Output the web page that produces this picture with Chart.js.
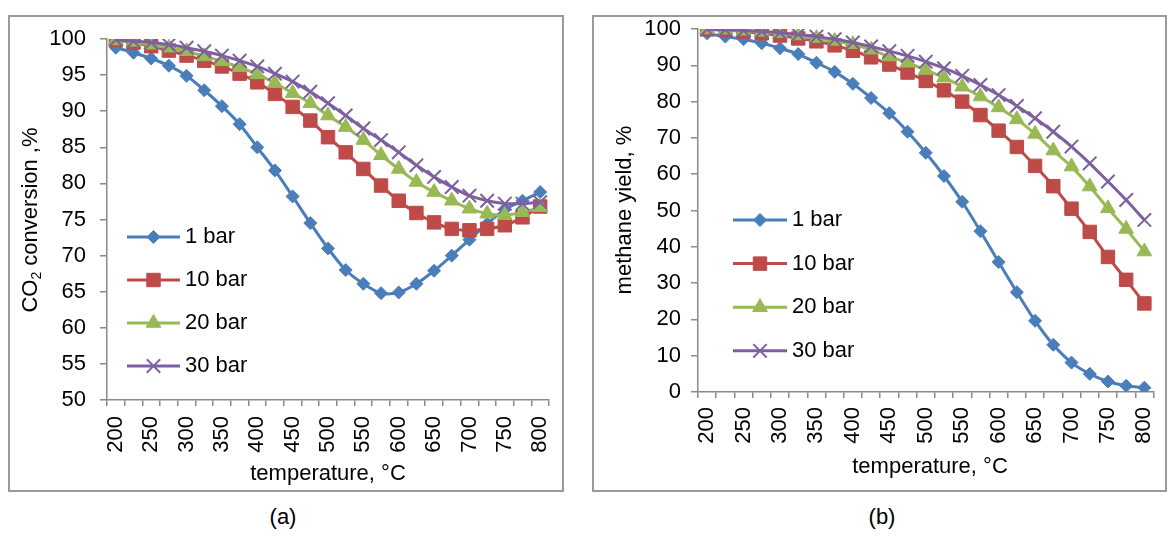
<!DOCTYPE html>
<html>
<head>
<meta charset="utf-8">
<script src="https://cdn.jsdelivr.net/npm/chart.js@4.4.0/dist/chart.umd.min.js"></script>
<style>
body { margin: 0; background: #fff; width: 1167px; height: 554px; position: relative; overflow: hidden; font-family: "Liberation Sans", Arial, sans-serif; }
.frame { position: absolute; border: 2px solid #9a9a9a; box-sizing: border-box; }
.frame canvas { display: block; }
.cap { position: absolute; font-size: 22px; transform: translate(-50%, -50%); color: #000; }
</style>
</head>
<body>
<div class="frame" style="left:8px;top:15px;width:556px;height:477px"><canvas id="chartA"></canvas></div>
<div class="frame" style="left:592px;top:15px;width:575px;height:477px"><canvas id="chartB"></canvas></div>
<div class="cap" style="left:283px;top:517px">(a)</div>
<div class="cap" style="left:882px;top:517px">(b)</div>
<script>
// temperature categories, °C
var temps = [200, 225, 250, 275, 300, 325, 350, 375, 400, 425, 450, 475, 500,
             525, 550, 575, 600, 625, 650, 675, 700, 725, 750, 775, 800];
var shownTicks = [200, 250, 300, 350, 400, 450, 500, 550, 600, 650, 700, 750, 800];
var seriesNames = ['1 bar', '10 bar', '20 bar', '30 bar'];

// (a) CO2 conversion, %
var convBar1 = [98.8, 98.1, 97.3, 96.3, 94.9, 92.9, 90.7, 88.2, 85.0, 81.8, 78.2, 74.5, 71.0,
                68.0, 66.1, 64.8, 64.9, 66.1, 67.9, 70.0, 72.2, 74.4, 76.4, 77.6, 78.8];
var convBar10 = [99.9, 99.5, 99.0, 98.4, 97.7, 97.0, 96.2, 95.2, 94.0, 92.4, 90.6, 88.7, 86.4,
                 84.3, 82.0, 79.7, 77.6, 75.9, 74.6, 73.7, 73.5, 73.7, 74.2, 75.3, 76.8];
var convBar20 = [99.8, 99.6, 99.2, 98.8, 98.3, 97.6, 96.9, 96.1, 95.1, 93.9, 92.5, 91.1, 89.4,
                 87.8, 86.0, 83.9, 82.0, 80.2, 78.8, 77.6, 76.5, 75.8, 75.6, 76.0, 76.7];
var convBar30 = [99.9, 99.7, 99.5, 99.2, 98.8, 98.3, 97.7, 97.0, 96.2, 95.2, 94.1, 92.7, 91.1,
                 89.4, 87.6, 86.0, 84.3, 82.5, 80.9, 79.5, 78.3, 77.6, 77.2, 77.2, 77.4];

// (b) methane yield, %
var yieldBar1 = [98.8, 97.9, 97.2, 96.1, 94.7, 93.1, 90.7, 88.2, 84.9, 81.0, 76.8, 71.7, 65.9,
                 59.5, 52.4, 44.3, 35.8, 27.5, 19.6, 13.0, 8.1, 5.0, 2.9, 1.7, 1.2];
var yieldBar10 = [99.9, 99.7, 99.3, 98.8, 98.2, 97.4, 96.6, 95.5, 94.0, 92.2, 90.2, 88.0, 85.7,
                  83.1, 80.0, 76.3, 72.0, 67.5, 62.3, 56.7, 50.5, 44.1, 37.2, 30.9, 24.4];
var yieldBar20 = [99.9, 99.8, 99.5, 99.2, 98.8, 98.2, 97.5, 96.7, 95.8, 94.3, 92.4, 90.7, 88.7,
                  86.6, 84.1, 81.4, 78.4, 75.1, 71.1, 66.5, 62.1, 56.6, 50.6, 44.9, 38.7];
var yieldBar30 = [99.9, 99.8, 99.6, 99.3, 99.0, 98.5, 97.9, 97.2, 96.3, 95.2, 93.9, 92.6, 91.0,
                  89.2, 87.1, 84.6, 81.8, 78.8, 75.4, 71.7, 67.6, 63.0, 58.0, 52.9, 47.4];

var colors = ['#4a7ebb', '#be4b48', '#98b954', '#7d60a0'];
var markers = [
    { pointStyle: 'rectRot', pointRadius: 6.5, pointBorderWidth: 1 },
    { pointStyle: 'rect', pointRadius: 9.5, pointBorderWidth: 1 },
    { pointStyle: 'triangle', pointRadius: 8.5, pointBorderWidth: 1 },
    { pointStyle: 'crossRot', pointRadius: 9.5, pointBorderWidth: 2 }
];
var FONT = '"Liberation Sans", Arial, sans-serif';
var AXIS = '#8a8a8a';

function makeDatasets(values) {
    return values.map(function(v, i) {
        return Object.assign({
            label: seriesNames[i],
            data: v,
            borderColor: colors[i],
            backgroundColor: colors[i],
            pointBackgroundColor: colors[i],
            pointBorderColor: colors[i],
            borderWidth: 3,
            tension: 0.3,
            order: 3 - i
        }, markers[i]);
    });
}

// titles and legend drawn by hand so they sit where the original has them
var decorPlugin = {
    id: 'decor',
    afterDraw: function(chart) {
        var o = chart.options.plugins.decor;
        var ctx = chart.ctx;
        ctx.save();
        ctx.fillStyle = '#000';
        ctx.textBaseline = 'middle';
        // y title, rotated, with optional subscript part
        ctx.save();
        ctx.translate(o.yTitle.x, o.yTitle.y);
        ctx.rotate(-Math.PI / 2);
        var big = o.fontSize + 'px ' + FONT, small = Math.round(o.fontSize * 0.65) + 'px ' + FONT;
        var total = 0;
        o.yTitle.parts.forEach(function(p) {
            ctx.font = p.sub ? small : big;
            total += ctx.measureText(p.text).width;
        });
        var x = -total / 2;
        ctx.textAlign = 'left';
        o.yTitle.parts.forEach(function(p) {
            ctx.font = p.sub ? small : big;
            ctx.fillText(p.text, x, p.sub ? 6 : 0);
            x += ctx.measureText(p.text).width;
        });
        ctx.restore();
        // x title
        ctx.font = big;
        ctx.textAlign = 'center';
        ctx.fillText(o.xTitle.text, o.xTitle.x, o.xTitle.y);
        // legend
        var lg = o.legend;
        chart.data.datasets.forEach(function(ds, i) {
            var y = lg.y + i * lg.dy;
            ctx.strokeStyle = ds.borderColor;
            ctx.fillStyle = ds.borderColor;
            ctx.lineWidth = 3;
            ctx.beginPath();
            ctx.moveTo(lg.x, y);
            ctx.lineTo(lg.x + lg.len, y);
            ctx.stroke();
            ctx.lineWidth = ds.pointBorderWidth;
            Chart.helpers.drawPoint(ctx, {
                pointStyle: ds.pointStyle, radius: ds.pointRadius, rotation: 0, borderWidth: ds.pointBorderWidth
            }, lg.x + lg.len / 2, y);
            ctx.fillStyle = '#000';
            ctx.font = big;
            ctx.textAlign = 'left';
            ctx.fillText(ds.label, lg.x + lg.len + 5, y);
        });
        ctx.restore();
    }
};

function makeChart(id, cfg) {
    return new Chart(document.getElementById(id), {
        type: 'line',
        data: { labels: temps, datasets: makeDatasets(cfg.values) },
        options: {
            animation: false,
            responsive: true,
            maintainAspectRatio: false,
            layout: { padding: { left: 0, top: cfg.top, right: cfg.right, bottom: 0 } },
            plugins: {
                legend: { display: false },
                tooltip: { enabled: false },
                decor: cfg.decor
            },
            scales: {
                x: {
                    type: 'category',
                    offset: true,
                    grid: { offset: true, drawOnChartArea: false, drawTicks: true, tickLength: 6, color: AXIS, lineWidth: 1.5 },
                    border: { color: AXIS, width: 1.5 },
                    ticks: {
                        autoSkip: false, minRotation: 90, maxRotation: 90, padding: cfg.xPad, color: '#000',
                        font: { family: FONT, size: cfg.fontSize, lineHeight: 1 },
                        callback: function(value, index) {
                            var t = temps[index];
                            return shownTicks.indexOf(t) >= 0 ? String(t) : '';
                        }
                    },
                    afterFit: function(s) { s.height = cfg.xHeight; s.paddingLeft = 0; s.paddingRight = 0; }
                },
                y: {
                    min: cfg.yMin, max: 100,
                    grid: { drawOnChartArea: false, drawTicks: true, tickLength: 7, color: AXIS, lineWidth: 1.5 },
                    border: { color: AXIS, width: 1.5 },
                    ticks: {
                        stepSize: cfg.yStep, padding: cfg.yPad, color: '#000',
                        font: { family: FONT, size: cfg.fontSize, lineHeight: 1 }
                    },
                    afterFit: function(s) { s.width = cfg.yWidth; s.paddingTop = 0; s.paddingBottom = 0; }
                }
            }
        },
        plugins: [decorPlugin]
    });
}

var chartA = makeChart('chartA', {
    values: [convBar1, convBar10, convBar20, convBar30],
    yMin: 50, yStep: 5, fontSize: 22,
    top: 22, right: 13, xHeight: 90, yWidth: 97, xPad: 10, yPad: 14,
    decor: {
        fontSize: 22,
        yTitle: { x: 21, y: 203, parts: [{ text: 'CO' }, { text: '2', sub: true }, { text: ' conversion ,%' }] },
        xTitle: { x: 318, y: 457, text: 'temperature, °C' },
        legend: { x: 117, y: 220, dy: 43, len: 53 }
    }
});

var chartB = makeChart('chartB', {
    values: [yieldBar1, yieldBar10, yieldBar20, yieldBar30],
    yMin: 0, yStep: 10, fontSize: 22,
    top: 12, right: 4, xHeight: 98, yWidth: 104, xPad: 9, yPad: 10,
    decor: {
        fontSize: 22,
        yTitle: { x: 31, y: 193, parts: [{ text: 'methane yield, %' }] },
        xTitle: { x: 336, y: 450, text: 'temperature, °C' },
        legend: { x: 139, y: 203, dy: 43.6, len: 54 }
    }
});
</script>
</body>
</html>
